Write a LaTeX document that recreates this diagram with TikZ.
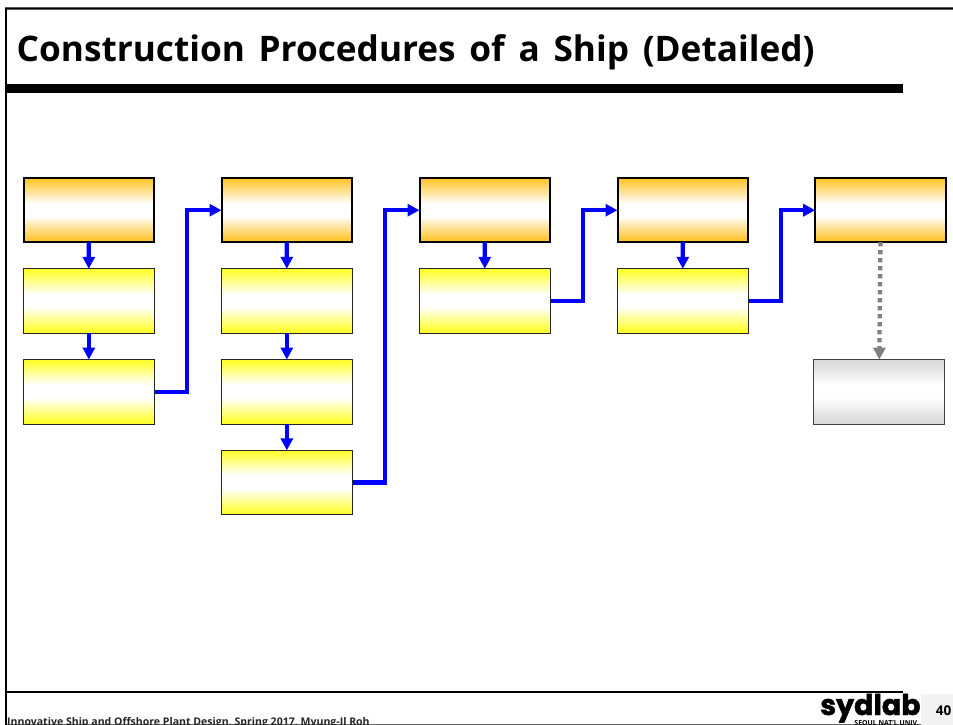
\documentclass[tikz,border=0pt]{standalone}
\usepackage{fontspec}
\setmainfont{Open Sans}
\newfontfamily\titlefont[WordSpace=1.5]{Open Sans}
\newfontfamily\logofont[FakeBold=1.6]{Poppins}
\usetikzlibrary{arrows.meta,calc}
\definecolor{headorange}{RGB}{255,199,51}
\definecolor{subyellow}{RGB}{255,255,51}
\definecolor{greyfill}{RGB}{218,218,218}
\newcommand{\gradstrips}[1]{%
  \foreach \i in {0,...,64}{%
    \pgfmathsetmacro\dd{min(\i,64-\i)/64}%
    \pgfmathsetmacro\mm{max(0,min(100,100*(0.40-\dd)/0.37))}%
    \fill[#1!\mm!white] ($(path picture bounding box.north west)!\i/65!(path picture bounding box.south west)$) rectangle (path picture bounding box.south east);
  }%
}
\tikzset{
  x=1pt,y=-1pt,
  basebox/.style={rectangle,inner sep=0pt,outer sep=0pt,anchor=north west},
  headbox/.style={basebox,minimum width=130.5pt,minimum height=63.8pt,draw=black,line width=2pt,path picture={\gradstrips{headorange}}},
  subbox/.style={basebox,minimum width=131.3pt,minimum height=64.4pt,draw=black!85,line width=1pt,path picture={\gradstrips{subyellow}}},
  greybox/.style={basebox,minimum width=131pt,minimum height=64.4pt,draw=black!75,line width=1pt,path picture={\gradstrips{greyfill}}},
  flow/.style={draw={rgb,255:red,0;green,0;blue,255},line width=4.3pt,-{Triangle[length=12pt,width=12pt]}},
  optflow/.style={draw={rgb,255:red,128;green,128;blue,128},line width=4.3pt,dash pattern=on 4.2pt off 3.8pt,-{Triangle[length=12pt,width=12pt]}},
  rule/.style={fill=black,draw=none}
}
\begin{document}
\begin{tikzpicture}
\clip (0,0) rectangle (953,725);
\fill[white] (0,0) rectangle (953,725);
% frame
\fill[black!65] (4.5,7) rectangle (953,10);
\fill[black] (5,8) rectangle (953,9.5);
\fill[black] (4.7,8) rectangle (7,725);
\fill[rule] (5,84) rectangle (903,93);
\fill[rule] (5,690.5) rectangle (903,692.5);
\fill[black!60] (7,723.8) rectangle (921,725);
% title
\node[anchor=base west,inner sep=0pt,font=\titlefont\bfseries\fontsize{35.2pt}{38pt}\selectfont] (title) at (16.5,61.5) {Construction Procedures of a Ship (Detailed)};
% footer
\node[anchor=base west,inner sep=0pt,font=\bfseries\fontsize{10.55pt}{12pt}\selectfont,text=black!85] (foot) at (7,725.5) {Innovative Ship and Offshore Plant Design, Spring 2017, Myung-Il Roh};
% logo
\node[anchor=base west,inner sep=0pt,font=\logofont\bfseries\fontsize{28.5pt}{30pt}\selectfont] (logo) at (820,715) {sydlab};
\node[anchor=base east,inner sep=0pt,font=\bfseries\fontsize{6.9pt}{8pt}\selectfont] (univ) at (919,725) {SEOUL NAT'L UNIV.};
\fill[black!5] (921,694) rectangle (953,725);
\node[inner sep=0pt,font=\bfseries\fontsize{13.5pt}{15pt}\selectfont] (page) at (943.5,710.5) {40};
% boxes
\node[headbox] (h1) at (23.5,178.3) {};
\node[headbox] (h2) at (221.5,178.3) {};
\node[headbox] (h3) at (419.5,178.3) {};
\node[headbox] (h4) at (617.5,178.3) {};
\node[headbox] (h5) at (815.2,178.3) {};
\node[subbox] (a1) at (23.2,268.8) {};
\node[subbox] (a2) at (23.2,359.6) {};
\node[subbox] (b1) at (221.2,268.8) {};
\node[subbox] (b2) at (221.2,359.6) {};
\node[subbox] (b3) at (221.2,450.4) {};
\node[subbox] (c1) at (419.2,268.8) {};
\node[subbox] (d1) at (617.2,268.8) {};
\node[greybox] (e1) at (813.8,359.6) {};
% connectors
\draw[flow] (h1) -- (a1);
\draw[flow] (a1) -- (a2);
\draw[flow] (a2.east) -- ++(32.5,0) |- (h2.west);
\draw[flow] (h2) -- (b1);
\draw[flow] (b1) -- (b2);
\draw[flow] (b2) -- (b3);
\draw[flow] (b3.east) -- ++(32.5,0) |- (h3.west);
\draw[flow] (h3) -- (c1);
\draw[flow] (c1.east) -- ++(32.5,0) |- (h4.west);
\draw[flow] (h4) -- (d1);
\draw[flow] (d1.east) -- ++(32.5,0) |- (h5.west);
\draw[optflow] (h5.south) -- (e1.north);
\end{tikzpicture}
\end{document}
